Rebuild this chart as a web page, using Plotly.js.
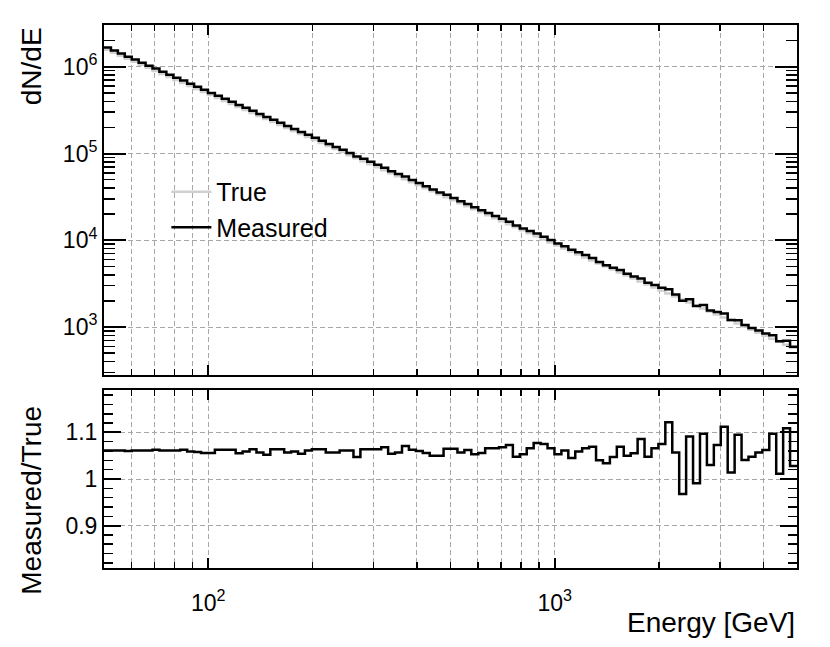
<!DOCTYPE html>
<html>
<head>
<meta charset="utf-8">
<script src="https://cdn.plot.ly/plotly-3.0.1.min.js"></script>
<style>
  html, body { margin: 0; padding: 0; background: #fff; }
  #myDiv { width: 830px; height: 647px; }
</style>
</head>
<body>
<div id="myDiv"></div>
<script>
// 100 log-spaced bins, 50 GeV .. 5000 GeV
var binEdges = [
  50.0, 52.36, 54.83, 57.41, 60.12, 62.95, 65.92, 69.02, 72.27, 75.68,
  79.25, 82.98, 86.89, 90.99, 95.28, 99.77, 104.47, 109.39, 114.55, 119.94,
  125.59, 131.52, 137.71, 144.20, 151.00, 158.11, 165.57, 173.37, 181.54, 190.10,
  199.05, 208.44, 218.26, 228.55, 239.32, 250.60, 262.41, 274.77, 287.72, 301.28,
  315.48, 330.35, 345.92, 362.22, 379.29, 397.17, 415.88, 435.48, 456.01, 477.50,
  500.0, 523.6, 548.3, 574.1, 601.2, 629.5, 659.2, 690.2, 722.7, 756.8,
  792.5, 829.8, 868.9, 909.9, 952.8, 997.7, 1044.7, 1093.9, 1145.5, 1199.4,
  1255.9, 1315.2, 1377.1, 1442.0, 1510.0, 1581.1, 1655.7, 1733.7, 1815.4, 1901.0,
  1990.5, 2084.4, 2182.6, 2285.5, 2393.2, 2506.0, 2624.1, 2747.7, 2877.2, 3012.8,
  3154.8, 3303.5, 3459.2, 3622.2, 3792.9, 3971.7, 4158.8, 4354.8, 4560.1, 4775.0,
  5000.0
];

// true spectrum, counts per bin
var trueCounts = [
  1.567e6, 1.447e6, 1.336e6, 1.233e6, 1.139e6, 1.051e6, 9.703e5, 8.959e5, 8.271e5, 7.637e5,
  7.051e5, 6.512e5, 6.012e5, 5.549e5, 5.126e5, 4.730e5, 4.366e5, 4.032e5, 3.722e5, 3.437e5,
  3.173e5, 2.930e5, 2.705e5, 2.497e5, 2.307e5, 2.128e5, 1.965e5, 1.814e5, 1.675e5, 1.547e5,
  1.428e5, 1.319e5, 1.217e5, 1.124e5, 1.038e5, 9.578e4, 8.842e4, 8.164e4, 7.537e4, 6.960e4,
  6.425e4, 5.933e4, 5.477e4, 5.057e4, 4.670e4, 4.310e4, 3.979e4, 3.674e4, 3.392e4, 3.132e4,
  2.891e4, 2.670e4, 2.465e4, 2.276e4, 2.101e4, 1.940e4, 1.791e4, 1.653e4, 1.526e4, 1.409e4,
  1.301e4, 1.201e4, 1.109e4, 1.024e4, 9456, 8728, 8058, 7440, 6868, 6342,
  5855, 5406, 4991, 4608, 4255, 3928, 3626, 3348, 3091, 2854,
  2635, 2433, 2246, 2073, 1915, 1767, 1632, 1506, 1391, 1284,
  1186, 1095, 1011, 933, 862, 795, 734, 678, 626, 578
];

// measured / true per bin
var ratio = [
  1.061, 1.061, 1.061, 1.060, 1.061, 1.061, 1.061, 1.063, 1.061, 1.061,
  1.061, 1.063, 1.059, 1.058, 1.056, 1.056, 1.063, 1.063, 1.063, 1.055,
  1.059, 1.064, 1.057, 1.052, 1.064, 1.064, 1.057, 1.059, 1.054, 1.061,
  1.064, 1.064, 1.057, 1.057, 1.061, 1.061, 1.047, 1.064, 1.064, 1.064,
  1.068, 1.054, 1.057, 1.071, 1.063, 1.060, 1.056, 1.050, 1.050, 1.065,
  1.065, 1.057, 1.062, 1.053, 1.056, 1.066, 1.066, 1.068, 1.073, 1.048,
  1.053, 1.066, 1.077, 1.075, 1.066, 1.053, 1.061, 1.045, 1.059, 1.066,
  1.069, 1.040, 1.034, 1.047, 1.069, 1.050, 1.055, 1.086, 1.048, 1.066,
  1.075, 1.122, 1.057, 0.968, 1.091, 0.991, 1.097, 1.030, 1.073, 1.112,
  1.014, 1.095, 1.041, 1.048, 1.057, 1.062, 1.097, 1.011, 1.109, 1.028
];

var xTickVals = [100, 1000];
var xTickText = ["10<sup>2</sup>", "10<sup>3</sup>"];
var xMinorVals = [60, 70, 80, 90, 200, 300, 400, 500, 600, 700, 800, 900, 2000, 3000, 4000];
var yTickVals = [1e3, 1e4, 1e5, 1e6];
var yTickText = ["10<sup>3</sup>", "10<sup>4</sup>", "10<sup>5</sup>", "10<sup>6</sup>"];
var yMinorVals = [300, 400, 500, 600, 700, 800, 900,
  2e3, 3e3, 4e3, 5e3, 6e3, 7e3, 8e3, 9e3,
  2e4, 3e4, 4e4, 5e4, 6e4, 7e4, 8e4, 9e4,
  2e5, 3e5, 4e5, 5e5, 6e5, 7e5, 8e5, 9e5, 2e6];
var rTickVals = [0.9, 1.0, 1.1];
var rTickText = ["0.9", "1", "1.1"];

var measured = trueCounts.map(function (v, i) { return v * ratio[i]; });

// step histogram: y repeated for the last edge
function steps(vals) { return vals.concat([vals[vals.length - 1]]); }

var FONT = "Liberation Sans, Arial, Helvetica, sans-serif";
var GRID = "#a8a8a8";
var DASH = "5px,3px";

var traceTrue = {
  x: binEdges, y: steps(trueCounts), type: "scatter", mode: "lines",
  line: { shape: "hv", color: "#d0d0d0", width: 2.5 },
  name: "True", xaxis: "x", yaxis: "y"
};
var traceMeas = {
  x: binEdges, y: steps(measured), type: "scatter", mode: "lines",
  line: { shape: "hv", color: "#000", width: 2.5 },
  name: "Measured", xaxis: "x", yaxis: "y"
};
var traceRatio = {
  x: binEdges, y: steps(ratio), type: "scatter", mode: "lines",
  line: { shape: "hv", color: "#000", width: 2.5 },
  showlegend: false, xaxis: "x2", yaxis: "y2"
};

function xAxis(anchor, labels) {
  return {
    type: "log", range: [Math.log10(50), Math.log10(5000)], anchor: anchor,
    showline: true, linecolor: "#000", linewidth: 2, mirror: "allticks",
    ticks: "inside", ticklen: 10, tickwidth: 2, tickcolor: "#000",
    tickmode: "array", tickvals: xTickVals, ticktext: xTickText,
    showticklabels: labels, ticklabelstandoff: 13,
    showgrid: true, gridcolor: GRID, griddash: DASH, gridwidth: 1,
    minor: { tickmode: "array", tickvals: xMinorVals, ticks: "inside", ticklen: 6,
             tickwidth: 1.5, tickcolor: "#000", showgrid: true, gridcolor: GRID, griddash: DASH, gridwidth: 1 },
    zeroline: false, tickfont: { family: FONT, size: 23, color: "#000" }
  };
}

var layout = {
  width: 830, height: 647,
  margin: { l: 104, r: 33, t: 25, b: 79 },
  paper_bgcolor: "#fff", plot_bgcolor: "#fff",
  showlegend: true,
  legend: { x: 0.09, y: 0.735, xanchor: "left", yanchor: "top", bgcolor: "rgba(0,0,0,0)",
            itemwidth: 40,
            font: { family: FONT, size: 25, color: "#000" }, traceorder: "normal" },
  xaxis: xAxis("y", false),
  xaxis2: Object.assign(xAxis("y2", true), { matches: "x" }),
  yaxis: {
    type: "log", range: [2.447, 6.481], domain: [0.3554, 1], anchor: "x",
    showline: true, linecolor: "#000", linewidth: 2, mirror: "allticks",
    ticks: "inside", ticklen: 22, tickwidth: 2, tickcolor: "#000",
    tickmode: "array", tickvals: yTickVals, ticktext: yTickText,
    showgrid: true, gridcolor: GRID, griddash: DASH, gridwidth: 1,
    minor: { tickmode: "array", tickvals: yMinorVals, ticks: "inside", ticklen: 11,
             tickwidth: 1.5, tickcolor: "#000", showgrid: false },
    zeroline: false, tickfont: { family: FONT, size: 23, color: "#000" }
  },
  yaxis2: {
    range: [0.809, 1.191], domain: [0, 0.3278], anchor: "x2",
    showline: true, linecolor: "#000", linewidth: 2, mirror: "allticks",
    ticks: "inside", ticklen: 17, tickwidth: 2, tickcolor: "#000",
    tickmode: "array", tickvals: rTickVals, ticktext: rTickText,
    showgrid: true, gridcolor: GRID, griddash: DASH, gridwidth: 1,
    minor: { dtick: 0.02, ticks: "inside", ticklen: 9, tickwidth: 1.5, tickcolor: "#000", showgrid: false },
    zeroline: false, tickfont: { family: FONT, size: 23, color: "#000" }
  },
  annotations: [
    { text: "dN/dE", xref: "paper", yref: "paper", x: -0.105, y: 1.0, xanchor: "center", yanchor: "top",
      textangle: -90, showarrow: false, font: { family: FONT, size: 28, color: "#000" } },
    { text: "Measured/True", xref: "paper", yref: "paper", x: -0.105, y: 0.302, xanchor: "center", yanchor: "top",
      textangle: -90, showarrow: false, font: { family: FONT, size: 28, color: "#000" } },
    { text: "Energy [GeV]", xref: "paper", yref: "paper", x: 1.0, y: -0.1, xanchor: "right", yanchor: "middle",
      showarrow: false, font: { family: FONT, size: 28, color: "#000" } }
  ]
};

Plotly.newPlot("myDiv", [traceTrue, traceMeas, traceRatio], layout, { displayModeBar: false, staticPlot: true });
</script>
</body>
</html>
